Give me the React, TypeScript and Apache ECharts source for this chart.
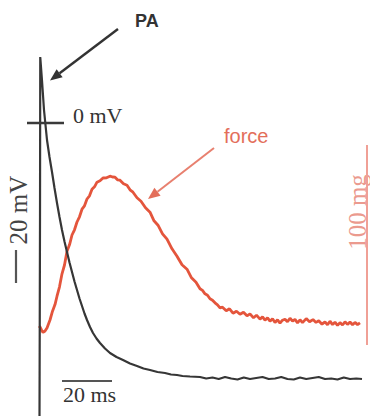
import React, { useEffect, useRef } from "react";
import * as echarts from "echarts";

// time (ms) axis and scales
const timeRange = [-16, 132];
const voltageRange = [-59.2, 24.6]; // mV
const forceRange = [-46, 163.5]; // mg

// action potential (PA): [ms, mV]
const apTrace: number[][] = [
  [-0.2, -58.6], [0, -20], [0.1, 13.2], [0.8, 8.5], [1.6, 2.6], [2.8, -3.4], [3.8, -6.8],
  [4.8, -9.8], [5.8, -13], [6.8, -16], [7.8, -18.8], [8.8, -21.4], [9.8, -23.7],
  [10.8, -25.8], [11.8, -27.9], [12.8, -29.8], [13.8, -31.7], [14.8, -33.4],
  [15.8, -35.1], [16.8, -36.6], [17.8, -38.1], [18.8, -39.4], [20, -40.8],
  [21.2, -42], [22.6, -43.1], [24, -44], [26, -45.1], [28, -46], [30.6, -46.8],
  [33.2, -47.4], [36, -48.1], [38.8, -48.6], [41.4, -49.1], [44, -49.4],
  [47, -49.8], [50, -50], [52.4, -50.3], [54.8, -50.4], [57, -50.6], [60, -50.7],
  [64, -50.8], [66.5, -51.1], [69, -50.9], [71.5, -51.2], [74, -50.8], [76.5, -51.1],
  [79, -51.3], [81.5, -50.9], [84, -51.2], [86.5, -51], [89, -50.8], [91.5, -51.2],
  [94, -51.1], [96.5, -50.8], [99, -51.2], [101.5, -51.3], [104, -50.9], [106.5, -51.2],
  [109, -51], [111.5, -50.8], [114, -51.2], [116.5, -51.1], [119, -51.3], [121.5, -50.9],
  [124, -51.2], [126.5, -51.1], [128.8, -51.2],
];

// force: [ms, mg]
const forceTrace: number[][] = [
  [-0.4, 0.5], [0, 0], [0.6, -1.5], [1.2, -2.7], [2, -2], [2.8, -0.5], [3.4, 1.5],
  [4, 3.5], [5, 7.9], [6, 11.2], [6.8, 15.4], [7.8, 20.1], [8.8, 26.6], [9.8, 31],
  [10.8, 37.9], [11.8, 41.1], [12.8, 46], [13.8, 48.6], [14.8, 52.5], [15.8, 55.1],
  [16.8, 58.9], [17.8, 60.6], [18.8, 64], [19.8, 65.6], [20.8, 68.9], [21.8, 70.1],
  [22.8, 72.4], [24, 73.1], [25.2, 74.5], [26.6, 74.6], [28, 75.4], [29, 75], [30, 74.9],
  [31, 73.6], [32, 73.4], [33.4, 71.6], [34.8, 70.9], [36, 68.6], [37.2, 67.4],
  [38.8, 64.6], [40.4, 62.9], [42.2, 59.6], [44, 57.4], [45.6, 53.1], [47.2, 50.9],
  [49, 46.6], [50.8, 43.9], [52.8, 39.1], [54.8, 35.4], [56.8, 31.1], [58.8, 28.9],
  [60.6, 24.6], [62.4, 22.4], [64, 19.1], [65, 18.3], [66, 16.6], [67, 15.9], [68, 14.1],
  [69, 13.4], [70, 12.1], [71, 11.1], [72, 9.6], [73, 9.9], [74.5, 8.1], [75.8, 9.1],
  [77.2, 6.9], [78.6, 7.9], [80, 6.4], [81.4, 7.4], [82.8, 5.6], [84, 6.6], [85.4, 4.6],
  [86.6, 5.9], [88, 3.9], [89, 5.1], [90, 3.4], [91, 4.6], [92, 2.9], [93, 4.1],
  [94, 2.2], [95, 3.6], [96, 1.9], [97, 3.4], [98, 3.9], [99, 2.6], [100, 4.4],
  [101, 2.9], [102, 3.8], [103, 2.1], [104, 3.6], [105, 2.2], [106.5, 4.2], [107.8, 2.6],
  [109.2, 3.7], [110.4, 2.3], [111.5, 3.1], [112.8, 1.4], [114, 2.6], [115, 1.1],
  [116, 2.9], [117, 1.2], [118, 2.4], [119, 0.8], [120, 2.2], [121, 1.0],
  [122, 2.6], [123, 1.3], [124, 2.5], [125, 1.1], [126, 2.3], [127, 1.2], [128, 2.1],
];

// scale bars and reference tick
const zeroTick: number[][] = [[-5.2, 0], [9.6, 0]];
const timeBar: number[][] = [[8.8, -51.6], [28.8, -51.6]];
const voltBar: number[][] = [[-9.6, -32], [-9.6, -25.4]];
const forceBar: number[][] = [[130.8, -9], [130.8, 91]];

const labels = { pa: "PA", zero: "0 mV", force: "force", ms: "20 ms", mv: "20 mV", mg: "100 mg" };

const serif = "'Liberation Serif', 'DejaVu Serif', serif";
const sans = "'Liberation Sans', Arial, sans-serif";

export default function App() {
  const ref = useRef<HTMLDivElement>(null);
  useEffect(() => {
    if (!ref.current) return;
    const chart = echarts.init(ref.current, null, { renderer: "svg" });
    const lineSeries = (data: number[][], color: string, width: number, yAxisIndex = 0, z = 2) => ({
      type: "line",
      data,
      yAxisIndex,
      symbol: "none",
      silent: true,
      z,
      lineStyle: { color, width },
    });
    chart.setOption({
      animation: false,
      backgroundColor: "#ffffff",
      grid: { left: 0, right: 0, top: 0, bottom: 0 },
      xAxis: { type: "value", min: timeRange[0], max: timeRange[1], show: false },
      yAxis: [
        { type: "value", min: voltageRange[0], max: voltageRange[1], show: false },
        { type: "value", min: forceRange[0], max: forceRange[1], show: false },
      ],
      series: [
        lineSeries(forceTrace, "#e4553c", 2.8, 1, 2),
        lineSeries(apTrace, "#363636", 2.2, 0, 3),
        lineSeries(zeroTick, "#3a3a3a", 2.4, 0, 3),
        lineSeries(timeBar, "#555555", 2.2, 0, 3),
        lineSeries(voltBar, "#555555", 2.2, 0, 3),
        lineSeries(forceBar, "#f0a096", 2, 1, 3),
      ],
      graphic: [
        { type: "text", left: 135, top: 12, style: { text: labels.pa, font: `bold 18px ${sans}`, fill: "#333333" } },
        { type: "line", shape: { x1: 118, y1: 29, x2: 59.6, y2: 73.3 }, style: { stroke: "#333333", lineWidth: 2.4 } },
        { type: "polygon", shape: { points: [[50, 80.5], [62.6, 77.3], [56.6, 69.3]] }, style: { fill: "#333333" } },
        { type: "text", left: 73, top: 104, style: { text: labels.zero, font: `22px ${serif}`, fill: "#333333" } },
        { type: "text", left: 224, top: 126, style: { text: labels.force, font: `20px ${sans}`, fill: "#e36e5a" } },
        { type: "line", shape: { x1: 214, y1: 148, x2: 157.5, y2: 191.7 }, style: { stroke: "#e8806f", lineWidth: 2 } },
        { type: "polygon", shape: { points: [[148, 199], [160.6, 195.7], [154.4, 187.7]] }, style: { fill: "#e36e5a" } },
        { type: "text", left: 63, top: 383, style: { text: labels.ms, font: `22px ${serif}`, fill: "#333333" } },
        {
          type: "text", x: 18, y: 210, rotation: Math.PI / 2,
          style: { text: labels.mv, font: `25px ${serif}`, fill: "#444444", align: "center", verticalAlign: "middle" },
        },
        {
          type: "text", x: 357, y: 212, rotation: Math.PI / 2,
          style: { text: labels.mg, font: `25px ${serif}`, fill: "#eb9a8e", align: "center", verticalAlign: "middle" },
        },
      ],
    });
    return () => chart.dispose();
  }, []);
  return <div ref={ref} style={{ position: "absolute", left: 0, top: 0, width: 370, height: 419 }} />;
}
